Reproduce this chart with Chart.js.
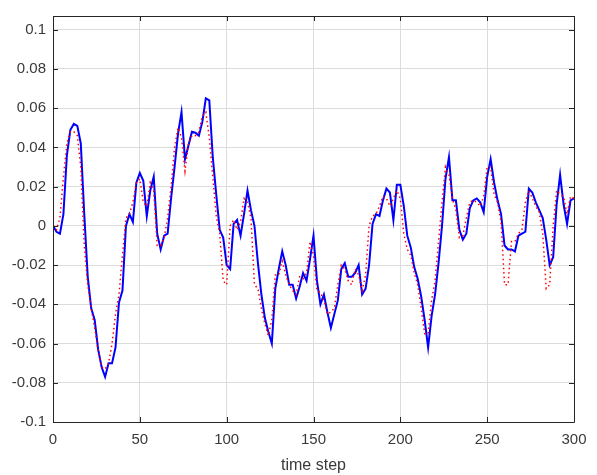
<!DOCTYPE html>
<html>
<head>
<meta charset="utf-8">
<script src="https://cdn.jsdelivr.net/npm/chart.js@4.4.1/dist/chart.umd.min.js"></script>
<style>
  body { margin: 0; background: #fff; }
  #wrap { width: 597px; height: 475px; }
</style>
</head>
<body>
<div id="wrap"><canvas id="grafica"></canvas></div>
<script>
// time steps (every 2nd step)
const pasos = [0,2,4,6,8,10,12,14,16,18,20,22,24,26,28,30,32,34,36,38,40,42,44,46,48,50,
  52,54,56,58,60,62,64,66,68,70,72,74,76,78,80,82,84,86,88,90,92,94,96,98,100,
  102,104,106,108,110,112,114,116,118,120,122,124,126,128,130,132,134,136,138,140,142,144,146,148,150,
  152,154,156,158,160,162,164,166,168,170,172,174,176,178,180,182,184,186,188,190,192,194,196,198,200,
  202,204,206,208,210,212,214,216,218,220,222,224,226,228,230,232,234,236,238,240,242,244,246,248,250,
  252,254,256,258,260,262,264,266,268,270,272,274,276,278,280,282,284,286,288,290,292,294,296,298,300];

// blue solid line
const salida = [0.000,-0.003,-0.004,0.006,0.036,0.049,0.052,0.051,0.042,0.006,-0.026,-0.042,-0.048,-0.063,-0.072,-0.077,-0.070,-0.070,-0.062,-0.039,-0.033,0.000,0.006,0.002,0.022,0.027,
  0.023,0.005,0.018,0.025,-0.004,-0.012,-0.005,-0.004,0.014,0.030,0.047,0.058,0.034,0.041,0.048,0.0475,0.046,0.053,0.065,0.064,0.035,0.016,-0.002,-0.006,-0.020,
  -0.022,0.001,0.003,-0.005,0.006,0.018,0.008,0.000,-0.019,-0.035,-0.047,-0.054,-0.060,-0.032,-0.022,-0.013,-0.020,-0.030,-0.030,-0.037,-0.031,-0.024,-0.028,-0.017,-0.005,
  -0.028,-0.040,-0.035,-0.044,-0.052,-0.045,-0.038,-0.022,-0.019,-0.026,-0.026,-0.024,-0.020,-0.035,-0.032,-0.020,0.001,0.006,0.005,0.013,0.019,0.017,0.003,0.021,0.021,
  0.010,-0.005,-0.011,-0.021,-0.027,-0.036,-0.048,-0.062,-0.046,-0.035,-0.019,0.000,0.024,0.035,0.013,0.013,-0.002,-0.007,-0.004,0.009,0.013,0.014,0.012,0.007,0.025,
  0.034,0.022,0.013,0.006,-0.010,-0.012,-0.012,-0.013,-0.005,-0.004,-0.003,0.019,0.017,0.012,0.008,0.004,-0.007,-0.020,-0.016,0.011,0.026,0.011,0.001,0.013,0.014];

// red dotted line
const referencia = [0.000,-0.002,0.004,0.025,0.042,0.048,0.048,0.046,0.030,-0.010,-0.030,-0.042,-0.052,-0.064,-0.072,-0.073,-0.070,-0.060,-0.045,-0.035,-0.015,0.004,0.006,0.012,0.022,0.024,
  0.012,0.010,0.022,0.018,-0.010,-0.010,-0.006,0.004,0.020,0.040,0.050,0.045,0.028,0.042,0.046,0.046,0.048,0.056,0.058,0.045,0.025,0.005,-0.004,-0.028,-0.030,
  0.000,0.003,-0.002,0.002,0.014,0.012,0.004,-0.030,-0.032,-0.042,-0.050,-0.056,-0.048,-0.025,-0.025,-0.018,-0.025,-0.030,-0.033,-0.035,-0.026,-0.027,-0.024,-0.008,-0.015,
  -0.033,-0.034,-0.038,-0.045,-0.044,-0.042,-0.030,-0.020,-0.022,-0.028,-0.030,-0.022,-0.025,-0.033,-0.025,0.000,0.005,0.006,0.010,0.015,0.014,0.010,0.014,0.018,0.014,
  -0.004,-0.012,-0.015,-0.024,-0.030,-0.042,-0.055,-0.055,-0.038,-0.028,-0.008,0.012,0.030,0.026,0.014,0.008,-0.006,-0.005,0.004,0.012,0.013,0.012,0.010,0.015,0.030,
  0.030,0.016,0.012,0.002,-0.030,-0.030,-0.008,-0.008,-0.004,-0.002,0.012,0.018,0.014,0.010,0.007,-0.004,-0.032,-0.030,0.000,0.018,0.016,0.015,0.006,0.015,0.014];

const xTicks = [0, 50, 100, 150, 200, 250, 300];
const yTicks = [-0.1, -0.08, -0.06, -0.04, -0.02, 0, 0.02, 0.04, 0.06, 0.08, 0.1];

const tinta = '#262626';
const letra = '#3a3a3a';
const fuente = 'Liberation Sans, Arial, Helvetica, sans-serif';

// box round the axes with the ticks pointing inwards, like MATLAB
const cajaMatlab = {
  id: 'cajaMatlab',
  afterDraw(chart) {
    const { ctx, chartArea: a, scales: { x, y } } = chart;
    const largo = 5;
    ctx.save();
    ctx.strokeStyle = tinta;
    ctx.lineWidth = 1;
    ctx.beginPath();
    xTicks.forEach(v => {
      const px = Math.round(x.getPixelForValue(v)) + 0.5;
      ctx.moveTo(px, a.bottom); ctx.lineTo(px, a.bottom - largo);
      ctx.moveTo(px, a.top); ctx.lineTo(px, a.top + largo);
    });
    yTicks.forEach(v => {
      const py = Math.round(y.getPixelForValue(v)) + 0.5;
      ctx.moveTo(a.left, py); ctx.lineTo(a.left + largo, py);
      ctx.moveTo(a.right, py); ctx.lineTo(a.right - largo, py);
    });
    ctx.stroke();
    ctx.beginPath();
    ctx.rect(Math.round(a.left) + 0.5, Math.round(a.top) + 0.5, Math.round(a.width), Math.round(a.height));
    ctx.stroke();
    ctx.restore();
  }
};

const ctx = document.getElementById('grafica').getContext('2d');

const config = {
  type: 'line',
  data: {
    datasets: [
      {
        label: 'referencia',
        data: pasos.map((p, i) => ({ x: p, y: referencia[i] })),
        borderColor: '#ff0000',
        borderWidth: 1.5,
        borderDash: [1.5, 3],
        pointRadius: 0,
        tension: 0,
        fill: false
      },
      {
        label: 'salida',
        data: pasos.map((p, i) => ({ x: p, y: salida[i] })),
        borderColor: '#0000ff',
        borderWidth: 2,
        pointRadius: 0,
        tension: 0,
        fill: false
      }
    ]
  },
  options: {
    responsive: true,
    maintainAspectRatio: false,
    animation: false,
    layout: { padding: { top: 9, right: 23, left: 0, bottom: 0 } },
    plugins: {
      legend: { display: false },
      tooltip: { enabled: false }
    },
    scales: {
      x: {
        type: 'linear',
        min: 0,
        max: 300,
        afterBuildTicks: s => { s.ticks = xTicks.map(v => ({ value: v })); },
        afterFit: s => { s.height = 53; },
        grid: { color: '#dcdcdc', lineWidth: 1, drawTicks: false },
        border: { display: false },
        ticks: { color: letra, font: { family: fuente, size: 15 }, padding: 9, maxRotation: 0 },
        title: { display: true, text: 'time step', color: letra, font: { family: fuente, size: 16 }, padding: { top: 0, bottom: 0 } }
      },
      y: {
        type: 'linear',
        min: -0.1,
        max: 0.107,
        afterBuildTicks: s => { s.ticks = yTicks.map(v => ({ value: v })); },
        afterFit: s => { s.width = 53; },
        grid: { color: '#dcdcdc', lineWidth: 1, drawTicks: false },
        border: { display: false },
        ticks: {
          color: letra,
          font: { family: fuente, size: 15 },
          padding: 7,
          callback: v => String(Number(v.toFixed(2)))
        }
      }
    }
  },
  plugins: [cajaMatlab]
};

const grafica = new Chart(ctx, config);
</script>
</body>
</html>
